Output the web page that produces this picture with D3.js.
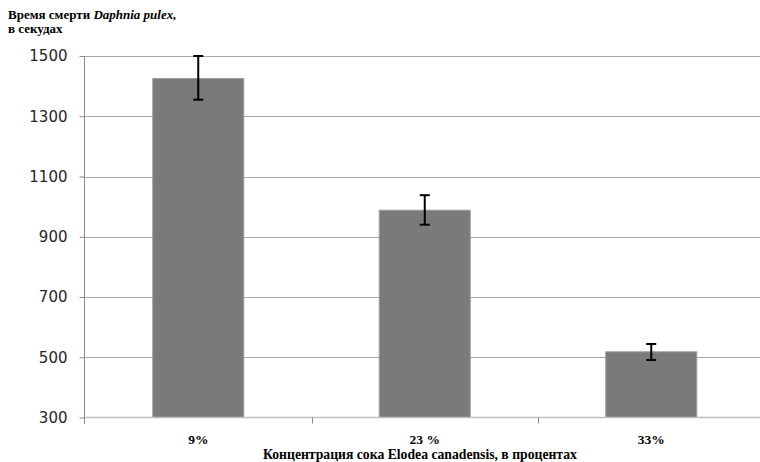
<!DOCTYPE html>
<html><head><meta charset="utf-8">
<script src="https://cdn.jsdelivr.net/npm/d3@7"></script>
<style>body{margin:0;background:#fff}svg{display:block}
.serif{font-family:"Liberation Serif","Times New Roman",Times,"DejaVu Serif",serif;font-weight:bold}</style>
</head><body>
<script>
const categories = ["9%", "23 %", "33%"];
const values = [1425, 988, 518];
const errLow = [70, 48, 27];
const errHigh = [75, 50, 26];
const yTicks = [300, 500, 700, 900, 1100, 1300, 1500];

const W = 760, H = 462;
const svg = d3.select("body").append("svg").attr("width", W).attr("height", H);

const x = d3.scaleBand().domain(categories).range([85, 764.5]).padding(0);
const y = d3.scaleLinear().domain([300, 1500]).range([417.5, 56]);
const barW = 91;

// gridlines
svg.append("g").selectAll("line").data(yTicks.filter(d => d > 300)).join("line")
  .attr("x1", 85).attr("x2", W)
  .attr("y1", d => Math.round(y(d)) + 0.5).attr("y2", d => Math.round(y(d)) + 0.5)
  .attr("stroke", "#a6a6a6").attr("stroke-width", 1);

// y axis
const yAxis = d3.axisLeft(y).tickValues(yTicks).tickSize(5).tickPadding(12).tickFormat(d3.format("d"));
const gy = svg.append("g").attr("transform", "translate(84.5,0)").call(yAxis);
gy.select(".domain").attr("stroke", "#8c8c8c").attr("d", "M0,56V424");
gy.selectAll(".tick line").attr("stroke", "#8c8c8c");
gy.selectAll(".tick text").attr("font-family", "DejaVu Sans").attr("font-size", 15).attr("fill", "#262626");

// bars
svg.append("g").selectAll("rect").data(values).join("rect")
  .attr("x", (d, i) => x(categories[i]) + x.bandwidth() / 2 - barW / 2)
  .attr("y", d => y(d))
  .attr("width", barW)
  .attr("height", d => y(300) - y(d))
  .attr("fill", "#7a7a7a").attr("stroke", "#9a9a9a").attr("stroke-width", 1);

// x axis
const gx = svg.append("g").attr("transform", "translate(0,417.5)");
gx.append("line").attr("x1", 85).attr("x2", W).attr("y1", 0).attr("y2", 0).attr("stroke", "#bfbfbf").attr("stroke-width", 1.5);
gx.selectAll("line.tk").data(categories.slice(1)).join("line").attr("class", "tk")
  .attr("x1", d => Math.round(x(d)) + 0.5).attr("x2", d => Math.round(x(d)) + 0.5)
  .attr("y1", 0).attr("y2", 6).attr("stroke", "#8c8c8c");
gx.selectAll("text").data(categories).join("text").attr("class", "serif")
  .attr("x", d => x(d) + x.bandwidth() / 2).attr("y", 26.5)
  .attr("text-anchor", "middle")
  .attr("font-size", 13.5).attr("fill", "#000").text(d => d);

// error bars
const eb = svg.append("g").attr("stroke", "#000").attr("stroke-width", 2);
values.forEach((v, i) => {
  const cx = x(categories[i]) + x.bandwidth() / 2;
  const yt = y(v + errHigh[i]), yb = y(v - errLow[i]);
  eb.append("line").attr("x1", cx).attr("x2", cx).attr("y1", yt).attr("y2", yb);
  eb.append("line").attr("x1", cx - 5).attr("x2", cx + 5).attr("y1", yt).attr("y2", yt);
  eb.append("line").attr("x1", cx - 5).attr("x2", cx + 5).attr("y1", yb).attr("y2", yb);
});

// titles
const t = svg.append("text").attr("class", "serif").attr("x", 8).attr("y", 18.5)
  .attr("font-size", 13).attr("fill", "#000");
t.append("tspan").text("Время смерти ");
t.append("tspan").attr("font-style", "italic").text("Daphnia pulex,");
svg.append("text").attr("class", "serif").attr("x", 8).attr("y", 32.5)
  .attr("font-size", 13).attr("fill", "#000")
  .text("в секудах");
svg.append("text").attr("class", "serif").attr("x", 420).attr("y", 458.5).attr("text-anchor", "middle")
  .attr("font-size", 13.7).attr("fill", "#000")
  .text("Концентрация сока Elodea canadensis, в процентах");
</script>
</body></html>
